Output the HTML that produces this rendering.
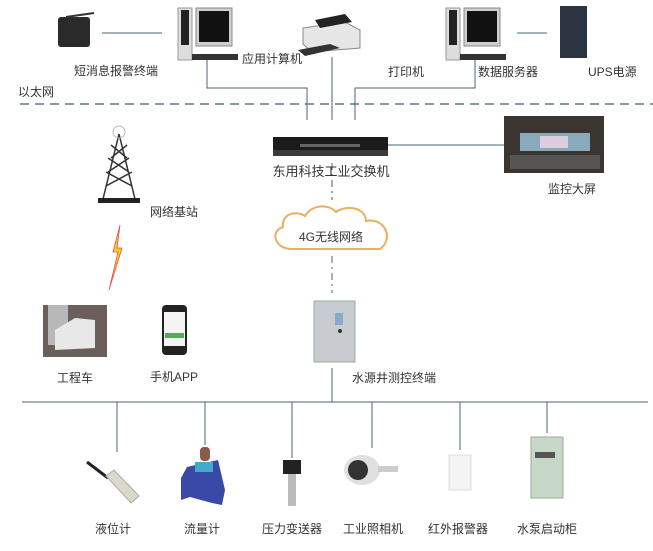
<!DOCTYPE html>
<html><head><meta charset="utf-8"><style>
html,body{margin:0;padding:0;background:#fff;}
svg{display:block;}
text{font-family:"Liberation Sans","Noto Sans CJK SC",sans-serif;font-size:12px;fill:#333;}
</style></head><body>
<svg width="653" height="551" viewBox="0 0 653 551" xmlns="http://www.w3.org/2000/svg">
<g stroke="#4a6678" stroke-width="1" fill="none">
 <line x1="102" y1="33" x2="162" y2="33"/>
 <line x1="517" y1="33" x2="547" y2="33"/>
 <polyline points="207,58 207,88 307,88 307,120"/>
 <line x1="332" y1="57" x2="332" y2="120"/>
 <polyline points="475,60 475,88 355,88 355,120"/>
 <line x1="388" y1="145" x2="504" y2="145"/>
 <line x1="332" y1="163" x2="332" y2="200" stroke-dasharray="7,4,2,4"/>
 <line x1="332" y1="256" x2="332" y2="293" stroke-dasharray="7,4,2,4"/>
 <line x1="332" y1="368" x2="332" y2="402"/>
 <line x1="22" y1="402" x2="648" y2="402"/>
 <line x1="117" y1="402" x2="117" y2="452"/>
 <line x1="205" y1="402" x2="205" y2="445"/>
 <line x1="292" y1="402" x2="292" y2="458"/>
 <line x1="372" y1="402" x2="372" y2="448"/>
 <line x1="460" y1="402" x2="460" y2="450"/>
 <line x1="547" y1="402" x2="547" y2="433"/>
</g>
<line x1="20" y1="104" x2="653" y2="104" stroke="#5a7890" stroke-width="1.5" stroke-dasharray="9,6"/>

<rect x="58" y="17" width="32" height="30" rx="3" fill="#2a2a2a"/>
<line x1="66" y1="17" x2="94" y2="13" stroke="#333" stroke-width="2"/>
<rect x="178" y="8" width="14" height="52" fill="#ddd" stroke="#999"/>
<rect x="181" y="10" width="8" height="35" fill="#222"/>
<rect x="196" y="8" width="36" height="38" fill="#cfcfcf" stroke="#888"/>
<rect x="199" y="11" width="30" height="31" fill="#111"/>
<rect x="192" y="54" width="46" height="6" fill="#333"/>
<path d="M303,28 L345,22 L360,30 L360,48 L312,52 L303,44 Z" fill="#e6e6e6" stroke="#888"/>
<path d="M315,20 L345,14 L352,22 L320,28 Z" fill="#222"/>
<path d="M298,50 L330,44 L340,48 L305,56 Z" fill="#333"/>
<rect x="446" y="8" width="14" height="52" fill="#ddd" stroke="#999"/>
<rect x="449" y="10" width="8" height="35" fill="#222"/>
<rect x="464" y="8" width="36" height="38" fill="#cfcfcf" stroke="#888"/>
<rect x="467" y="11" width="30" height="31" fill="#111"/>
<rect x="460" y="54" width="46" height="6" fill="#333"/>
<rect x="560" y="6" width="27" height="52" fill="#2b3440"/>
<text x="74" y="75">短消息报警终端</text>
<text x="242" y="63">应用计算机</text>
<text x="388" y="76">打印机</text>
<text x="478" y="76">数据服务器</text>
<text x="588" y="76">UPS电源</text>
<text x="18" y="96">以太网</text>

<rect x="273" y="137" width="115" height="18" fill="#1c1c1c"/>
<rect x="273" y="150" width="115" height="6" fill="#3a3a3a"/>
<rect x="300" y="144" width="60" height="3" fill="#666"/>
<text x="331" y="176" text-anchor="middle" style="font-size:13px">东用科技工业交换机</text>
<rect x="504" y="116" width="100" height="57" fill="#3a3530"/>
<rect x="520" y="133" width="70" height="18" fill="#8ab"/>
<rect x="540" y="136" width="28" height="12" fill="#dcd"/>
<rect x="510" y="155" width="90" height="14" fill="#555"/>
<text x="548" y="193">监控大屏</text>

<g stroke="#333" stroke-width="1.5" fill="none">
 <path d="M119,134 L103,199 M119,134 L135,199 M106,186 L132,172 M108,172 L129,158 M111,158 L127,145 M132,186 L106,172 M129,172 L108,158 M127,158 L111,145"/>
 <circle cx="119" cy="132" r="6" stroke="#bbb" stroke-width="1"/>
</g>
<rect x="98" y="198" width="42" height="5" fill="#222"/>
<text x="150" y="216">网络基站</text>
<path d="M120,225 L113,252 L118,252 L109,290 L122,248 L117,248 Z" fill="#f5d020" stroke="#e05050" stroke-width="0.8"/>

<path d="M292,249 C274,249 270,231 283,227 C281,214 296,210 305,216 C311,205 328,203 336,212 C347,204 366,208 366,221 C384,217 395,238 380,249 Z" fill="#fff" stroke="#e8b060" stroke-width="2"/>
<text x="331" y="241" text-anchor="middle">4G无线网络</text>

<rect x="43" y="305" width="64" height="52" fill="#6a5f5a"/>
<rect x="48" y="305" width="20" height="40" fill="#b8b8b8"/>
<path d="M55,330 L75,318 L95,320 L95,348 L55,350 Z" fill="#e8e8e8"/>
<rect x="162" y="305" width="25" height="50" rx="4" fill="#222"/>
<rect x="164" y="312" width="21" height="34" fill="#f3f3f3"/>
<rect x="165" y="333" width="19" height="5" fill="#5a5"/>
<rect x="314" y="301" width="41" height="61" fill="#c8ccd0" stroke="#9aa"/>
<rect x="335" y="313" width="8" height="12" fill="#8ac"/>
<circle cx="340" cy="331" r="2" fill="#333"/>
<text x="57" y="382">工程车</text>
<text x="150" y="381">手机APP</text>
<text x="352" y="382">水源井测控终端</text>

<line x1="87" y1="462" x2="108" y2="478" stroke="#222" stroke-width="3"/>
<path d="M106,476 L114,470 L139,496 L131,503 Z" fill="#ddd8cc" stroke="#aaa"/>
<rect x="200" y="447" width="10" height="14" rx="4" fill="#8a5a4a"/>
<path d="M187,467 L218,460 L225,490 L222,505 L212,503 L190,497 L181,500 L181,478 Z" fill="#3a48a8"/>
<rect x="195" y="462" width="18" height="10" fill="#4ac"/>
<rect x="283" y="460" width="18" height="14" fill="#222"/>
<rect x="288" y="474" width="8" height="32" fill="#bbb"/>
<ellipse cx="362" cy="470" rx="18" ry="15" fill="#e0e0e0"/>
<circle cx="358" cy="470" r="10" fill="#333"/>
<rect x="378" y="466" width="20" height="6" fill="#ccc"/>
<rect x="449" y="455" width="22" height="35" fill="#f4f4f4" stroke="#ddd"/>
<rect x="531" y="437" width="32" height="61" fill="#c8d8c8" stroke="#9a9"/>
<rect x="535" y="452" width="20" height="6" fill="#555"/>
<text x="113" y="533" text-anchor="middle">液位计</text>
<text x="202" y="533" text-anchor="middle">流量计</text>
<text x="292" y="533" text-anchor="middle">压力变送器</text>
<text x="373" y="533" text-anchor="middle">工业照相机</text>
<text x="458" y="533" text-anchor="middle">红外报警器</text>
<text x="547" y="533" text-anchor="middle">水泵启动柜</text>
</svg>
</body></html>
